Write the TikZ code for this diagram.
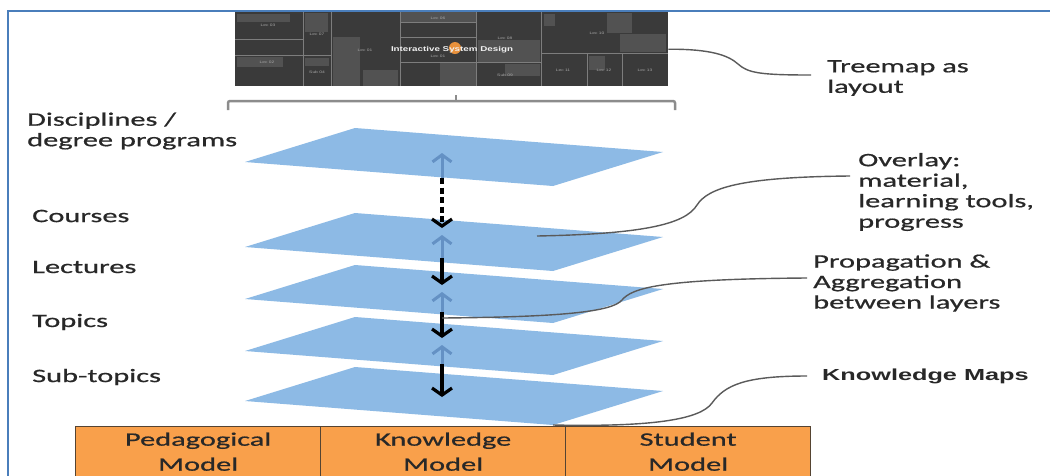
\documentclass[tikz,border=0pt]{standalone}
\usepackage{fontspec}
\setmainfont{Carlito}[FakeStretch=1.6,FakeBold=0.7]
\newfontfamily\kmfont{Liberation Sans}[FakeStretch=1.58]
\newfontfamily\tmfont{Liberation Sans}[FakeStretch=1.4]
\usetikzlibrary{arrows.meta}
\definecolor{frameblue}{RGB}{74,126,187}
\definecolor{layerblue}{RGB}{141,186,229}
\definecolor{arrblue}{RGB}{100,145,196}
\definecolor{boxorange}{RGB}{249,160,75}
\definecolor{boxedge}{RGB}{85,68,50}
\definecolor{txt}{RGB}{40,40,40}
\definecolor{callgray}{RGB}{90,90,90}
\definecolor{brgray}{RGB}{140,140,140}
\definecolor{tmdark}{RGB}{58,58,58}
\definecolor{tmlight}{RGB}{82,82,82}
\definecolor{tmline}{RGB}{125,125,125}
\definecolor{tmdot}{RGB}{232,145,60}
\begin{document}
\begin{tikzpicture}[x=1pt,y=-1pt,
  lbl/.style={font=\fontsize{19}{20.5}\selectfont, text=txt, inner sep=0pt, anchor=west, align=left},
  callout/.style={draw=callgray, line width=1.4pt},
  downarr/.style={draw=black, line width=3.2pt, -{Straight Barb[length=7pt,width=20pt]}},
  uparr/.style={draw=arrblue, line width=3pt, -{Straight Barb[length=7pt,width=19pt]}},
  modelbox/.style={draw=boxedge, fill=boxorange, line width=1.3pt, minimum width=245pt, minimum height=50pt,
    anchor=north west, align=center, inner sep=0pt, text=txt, font=\fontsize{19}{25}\selectfont},
  tmsep/.style={draw=tmline, line width=0.7pt},
  tmtxt/.style={font=\tmfont\fontsize{3.5}{4}\selectfont, text=gray!70, inner sep=0pt}
]
\clip (0,0) rectangle (1050,475);
\fill[white] (0,0) rectangle (1050,475);

% frame
\draw[frameblue, line width=2pt] (8,480) -- (8,11) -- (1060,11);

% treemap
\node[fill=tmdark, minimum width=433pt, minimum height=74pt, inner sep=0pt, anchor=north west] (treemap) at (235,12) {};
\fill[tmlight] (237,14) rectangle (290,22);
\fill[tmlight] (237,57) rectangle (283,67);
\fill[tmlight] (305,13) rectangle (328,32);
\fill[tmlight] (305,58) rectangle (329,66);
\fill[tmlight] (333,37) rectangle (360,86);
\fill[tmlight] (363,70) rectangle (398,86);
\fill[tmlight] (400,12) rectangle (476,22);
\fill[tmlight] (440,62) rectangle (476,86);
\fill[tmlight] (478,40) rectangle (540,62);
\fill[tmlight] (505,64) rectangle (540,76);
\fill[tmlight] (544,14) rectangle (555,26);
\fill[tmlight] (607,13) rectangle (632,33);
\fill[tmlight] (620,34) rectangle (666,52);
\fill[tmlight] (589,56) rectangle (605,70);
\draw[tmsep] (303,12) -- (303,86) (331,12) -- (331,86) (400,12) -- (400,86)
  (476,12) -- (476,86) (541,12) -- (541,86)
  (235,39) -- (303,39) (235,55) -- (303,55) (303,55) -- (331,55)
  (400,22) -- (476,22) (400,37) -- (476,37) (400,62) -- (476,62)
  (476,62) -- (541,62) (541,53) -- (668,53) (587,53) -- (587,86) (622,53) -- (622,86);
\fill[tmdot] (455,48) circle (6pt);
\node[font=\tmfont\bfseries\fontsize{7}{8}\selectfont, text=white!88!gray, inner sep=0pt] (tmtitle) at (452,50) {Interactive System Design};
\node[tmtxt] (l03) at (268,25) {Lec 03};
\node[tmtxt] (l02) at (267,62) {Lec 02};
\node[tmtxt] (l07) at (317,34) {Lec 07};
\node[tmtxt] (s04) at (317,72) {Sub 04};
\node[tmtxt] (l01a) at (365,50) {Lec 01};
\node[tmtxt] (l06) at (438,18) {Lec 06};
\node[tmtxt] (l01b) at (438,56) {Lec 01};
\node[tmtxt] (l08) at (505,38) {Lec 08};
\node[tmtxt] (s09) at (505,75) {Sub 09};
\node[tmtxt] (l10) at (597,33) {Lec 10};
\node[tmtxt] (l11) at (563,70) {Lec 11};
\node[tmtxt] (l12) at (604,70) {Lec 12};
\node[tmtxt] (l13) at (645,70) {Lec 13};

% bracket
\draw[brgray, line width=2.5pt, rounded corners=2pt] (228,110) -- (228,101) -- (675,101) -- (675,110);
\draw[brgray, line width=2.5pt] (456,95) -- (456,101);

% layers
\foreach \yy [count=\i] in {162,247,299,351,401} {
  \fill[layerblue] (245,\yy) -- ++(110,-34) -- ++(308,24) -- ++(-110,34) -- cycle;
}

% arrows between layers
\coordinate (u1t) at (442,153); \coordinate (u1b) at (442,182);
\coordinate (d1s) at (442,178); \coordinate (d1t) at (442,228);
\coordinate (u2t) at (442,235); \coordinate (u2b) at (442,262);
\coordinate (d2s) at (442,258); \coordinate (d2t) at (442,285);
\coordinate (u3t) at (442,292); \coordinate (u3b) at (442,316);
\coordinate (d3s) at (442,312); \coordinate (d3t) at (442,338);
\coordinate (u4t) at (442,345); \coordinate (u4b) at (442,368);
\coordinate (d4s) at (442,364); \coordinate (d4t) at (442,397);
\draw[uparr] (u1b) -- (u1t);
\draw[downarr, dash pattern=on 6pt off 3.5pt] (d1s) -- (d1t);
\draw[uparr] (u2b) -- (u2t);
\draw[downarr] (d2s) -- (d2t);
\draw[uparr] (u3b) -- (u3t);
\draw[downarr] (d3s) -- (d3t);
\draw[uparr] (u4b) -- (u4t);
\draw[downarr] (d4s) -- (d4t);

% model boxes
\node[modelbox] (ped) at (75,426) {Pedagogical\\Model};
\node[modelbox] (know) at (320,426) {Knowledge\\Model};
\node[modelbox] (stud) at (565,426) {Student\\Model};

% left labels
\node[lbl] (disc) at (27,131) {Disciplines /\\degree programs};
\node[lbl] (courses) at (32,216) {Courses};
\node[lbl] (lect) at (32,267) {Lectures};
\node[lbl] (topics) at (32,322) {Topics};
\node[lbl] (subt) at (32,377) {Sub-topics};

% right labels
\node[lbl] (tmlbl) at (827,78) {Treemap as\\layout};
\node[lbl] (ovlbl) at (858,192) {Overlay:\\material,\\learning tools,\\progress};
\node[lbl] (prlbl) at (813,283) {Propagation \&\\Aggregation\\between layers};
\node[lbl, font=\kmfont\bfseries\fontsize{16}{18}\selectfont] (kmlbl) at (822,376) {Knowledge Maps};

% callouts
\coordinate (ovs) at (537,236);
\coordinate (prs) at (442,318);
\coordinate (kms) at (553,425);
\draw[callout] (treemap.east) .. controls (710,49) and (728,55) .. (738,64)
  .. controls (748,73) and (760,75) .. ([xshift=-16pt,yshift=3pt]tmlbl.west);
\draw[callout] (ovs) .. controls (640,234) and (685,225) .. (697,205)
  .. controls (708,188) and (740,177) .. ([xshift=-8pt,yshift=16pt]ovlbl.west);
\draw[callout] (prs) .. controls (560,317) and (612,312) .. (622,300)
  .. controls (632,288) and (660,279) .. ([xshift=-6pt,yshift=5pt]prlbl.west);
\draw[callout] (kms) .. controls (650,427) and (700,420) .. (712,403)
  .. controls (725,385) and (745,376) .. ([xshift=-15pt]kmlbl.west);
\end{tikzpicture}
\end{document}
